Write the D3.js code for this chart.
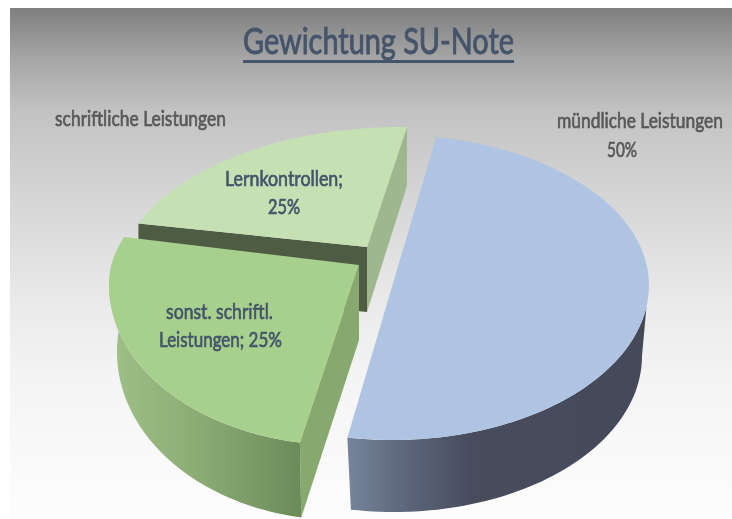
<!DOCTYPE html>
<html>
<head>
<meta charset="utf-8">
<script src="https://cdn.jsdelivr.net/npm/d3@7"></script>
<style>
  body { margin: 0; background: #fff; }
  text { font-family: Lato, "Open Sans", sans-serif; }
</style>
</head>
<body>
<div id="graph"></div>
<script>
  // chart values
  var categories = ["mündliche Leistungen", "sonst. schriftl. Leistungen", "Lernkontrollen"];
  var values = [50, 25, 25];
  var titleText = "Gewichtung SU-Note";
  var groupLabel = "schriftliche Leistungen";

  var w = 732;
  var h = 519;
  var rad = Math.PI / 180;

  // the picture is a perspective 3d pie, so every slice gets its own fitted ellipses
  var blueGeo = {
    top: { cx: 392, cy: 285, rx: 257, ryTop: 150, ryBottom: 155, t0: 9.9, t1: 190 },
    bottom: { cx: 394, cy: 356, rx: 248, ryTop: 156, ryBottom: 156 }
  };
  var sonstGeo = {
    top: { cx: 340, cy: 285, rx: 231, ryTop: 134, ryBottom: 160, t0: 190, t1: 291 },
    bottom: { cx: 340, cy: 352, rx: 223, ryTop: 168, ryBottom: 168 },
    apex: [359, 265], apexDepth: 75
  };
  var lernGeo = {
    top: { cx: 400, cy: 287, rx: 285, ryTop: 160, ryBottom: 160, t0: 293.4, t1: 361.4 },
    apex: [367, 247], apexDepth: 65, edgeDepth: 59
  };

  var svg = d3.select("#graph").append("svg").attr("width", w).attr("height", h);
  var defs = svg.append("defs");

  defs.append("filter").attr("id", "soft")
    .attr("x", "-5%").attr("y", "-5%").attr("width", "110%").attr("height", "110%")
    .append("feGaussianBlur").attr("stdDeviation", 0.45);

  function addGradient(id, x1, y1, x2, y2, stops) {
    var g = defs.append("linearGradient").attr("id", id)
      .attr("gradientUnits", "userSpaceOnUse")
      .attr("x1", x1).attr("y1", y1).attr("x2", x2).attr("y2", y2);
    stops.forEach(function(s) {
      g.append("stop").attr("offset", s[0]).attr("stop-color", s[1]);
    });
  }

  addGradient("bg", 0, 8, 0, 519, [
    [0, "#7f7f7f"], [0.1, "#a6a6a6"], [0.2, "#c2c2c2"], [0.356, "#d4d4d4"],
    [0.59, "#ebebeb"], [0.728, "#f4f4f4"], [1, "#fdfdfd"]
  ]);
  addGradient("blueSide", 349, 0, 642, 0, [
    [0, "#75839a"], [0.2, "#5c6579"], [0.42, "#474d5d"], [1, "#444a59"]
  ]);
  addGradient("greenSide", 117, 0, 302, 0, [
    [0, "#9dbf87"], [0.45, "#8bab75"], [1, "#6a8a59"]
  ]);

  var root = svg.append("g").attr("filter", "url(#soft)");

  root.append("rect")
    .attr("x", 10).attr("y", 8)
    .attr("width", w - 10).attr("height", h - 8)
    .attr("fill", "url(#bg)");

  // point on a fitted ellipse, t in degrees clockwise from the top
  function onEllipse(e, t) {
    var c = Math.cos(t * rad);
    return [e.cx + e.rx * Math.sin(t * rad), e.cy - (c > 0 ? e.ryTop : e.ryBottom) * c];
  }

  function arcPoints(e, t0, t1) {
    return d3.range(0, 61).map(function(i) {
      return onEllipse(e, t0 + (t1 - t0) * i / 60);
    });
  }

  var line = d3.line();
  function closed(pts) { return line(pts) + "Z"; }

  // d3.pie gives the angles, the scale maps them onto the fitted ellipse of the slice
  var slices = d3.pie().sort(null).value(function(d) { return d; })
    .startAngle(10 * rad).endAngle(370 * rad)(values);

  function sliceArc(geo, d) {
    var t = d3.scaleLinear()
      .domain([d.startAngle, d.endAngle])
      .range([geo.top.t0, geo.top.t1]);
    return arcPoints(geo.top, t(d.startAngle), t(d.endAngle));
  }

  // Lernkontrollen, the back slice, goes first
  var lernArc = sliceArc(lernGeo, slices[2]);
  var lernStart = lernArc[0];
  var lernEnd = lernArc[lernArc.length - 1];
  root.append("path")
    .attr("d", closed([lernEnd, lernGeo.apex,
      [lernGeo.apex[0], lernGeo.apex[1] + lernGeo.apexDepth],
      [lernEnd[0], lernEnd[1] + lernGeo.edgeDepth]]))
    .attr("fill", "#9fb78e");
  root.append("path")
    .attr("d", closed([lernStart, lernGeo.apex,
      [lernGeo.apex[0], lernGeo.apex[1] + lernGeo.apexDepth],
      [lernStart[0], lernStart[1] + lernGeo.apexDepth]]))
    .attr("fill", "#4e5b43");
  root.append("path")
    .attr("d", closed(lernArc.concat([lernGeo.apex])))
    .attr("fill", "#c5e0b3");

  // sonst. schriftl. Leistungen
  var sonstArc = sliceArc(sonstGeo, slices[1]);
  var sonstCorner = sonstArc[0];
  var sonstFloor = arcPoints(sonstGeo.bottom, 190, 290);
  root.append("path")
    .attr("d", closed([sonstGeo.apex, sonstCorner, sonstFloor[0],
      [sonstGeo.apex[0], sonstGeo.apex[1] + sonstGeo.apexDepth]]))
    .attr("fill", "#87a96f");
  root.append("path")
    .attr("d", closed(sonstFloor.concat(sonstArc.slice().reverse())))
    .attr("fill", "url(#greenSide)");
  root.append("path")
    .attr("d", closed(sonstArc.concat([sonstGeo.apex])))
    .attr("fill", "#a8d08d");

  // mündliche Leistungen
  var blueArc = sliceArc(blueGeo, slices[0]);
  var blueFloor = arcPoints(blueGeo.bottom, 90, 190);
  root.append("path")
    .attr("d", closed(blueFloor.concat(arcPoints(blueGeo.top, 190, 98))))
    .attr("fill", "url(#blueSide)");
  root.append("path")
    .attr("d", closed(blueArc))
    .attr("fill", "#afc4e3");

  // texts, squeezed sideways to be as wide as in the picture
  function label(str, x, y, size, len, color, stroke) {
    var t = root.append("text")
      .attr("text-anchor", "middle")
      .attr("font-size", size)
      .attr("fill", color)
      .attr("stroke", color).attr("stroke-width", stroke)
      .text(str);
    var natural = t.node().getComputedTextLength();
    t.attr("transform", "translate(" + x + "," + y + ") scale(" + (len / natural) + ",1)");
  }

  label(titleText, 378.5, 54, 36, 271, "#44546a", 0.9);
  root.append("rect")
    .attr("x", 243).attr("y", 60).attr("width", 271).attr("height", 3)
    .attr("fill", "#44546a");

  label(groupLabel, 140.5, 125.5, 21, 171, "#595959", 0.7);
  label(categories[0], 640, 128, 21, 166, "#595959", 0.7);
  label(values[0] + "%", 622, 157, 21, 30, "#595959", 0.7);

  label(categories[2] + ";", 284, 186, 22, 118, "#44546a", 0.7);
  label(values[2] + "%", 284, 214, 22, 32, "#44546a", 0.7);

  label("sonst. schriftl.", 219.5, 319, 22, 107, "#44546a", 0.7);
  label("Leistungen; " + values[1] + "%", 220.5, 347, 22, 123, "#44546a", 0.7);
</script>
</body>
</html>
